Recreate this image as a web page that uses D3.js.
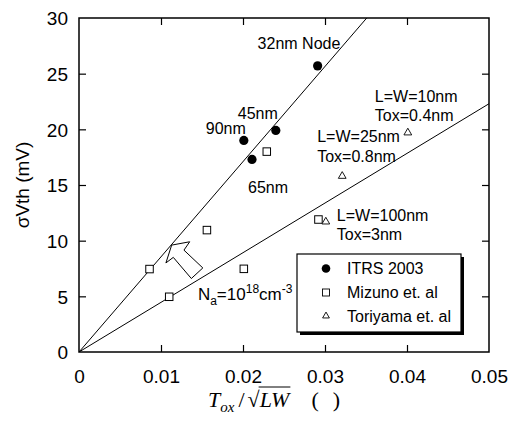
<!DOCTYPE html>
<html>
<head>
<meta charset="utf-8">
<script src="https://cdn.jsdelivr.net/npm/d3@7"></script>
<style>
  body { margin: 0; background: #fff; }
  text { font-family: Arial, "Liberation Sans", sans-serif; fill: #000; }
</style>
</head>
<body>
<svg id="chart"></svg>
<script>
// data
const itrsX = [0.0201, 0.0211, 0.0240, 0.0291];
const itrsY = [19.0, 17.3, 19.9, 25.7];
const itrsLabels = ["90nm", "65nm", "45nm", "32nm Node"];

const mizunoX = [0.0086, 0.0110, 0.0156, 0.0201, 0.0229, 0.0292];
const mizunoY = [7.45, 4.96, 10.95, 7.47, 18.0, 11.9];

const toriyamaX = [0.0301, 0.0321, 0.0401];
const toriyamaY = [11.7, 15.8, 19.7];

// fitted lines: slope in mV per unit
const lineSlopes = [855, 446];

const xTicks = [0, 0.01, 0.02, 0.03, 0.04, 0.05];
const yTicks = [0, 5, 10, 15, 20, 25, 30];

// outline arrow, in data units
const arrowX = [0.0113, 0.0135, 0.0128, 0.0151, 0.0137, 0.0115, 0.0106];
const arrowY = [9.6, 9.9, 9.15, 7.55, 6.6, 8.5, 8.0];

const legendNames = ["ITRS 2003", "Mizuno et. al", "Toriyama et. al"];

const width = 519, height = 424;
const margin = { top: 18, right: 30, bottom: 72, left: 79 };
const w = width - margin.left - margin.right,
      h = height - margin.top - margin.bottom;

const svg = d3.select("#chart")
    .attr("width", width)
    .attr("height", height);

const x = d3.scaleLinear().domain([0, 0.05]).range([0, w]);
const y = d3.scaleLinear().domain([0, 30]).range([h, 0]);

const g = svg.append("g")
    .attr("transform", "translate(" + margin.left + "," + margin.top + ")");

svg.append("defs").append("clipPath").attr("id", "clip")
    .append("rect").attr("width", w).attr("height", h);

// inward ticks on all four sides
const tickLen = 7;
const axB = g.append("g").attr("transform", "translate(0," + h + ")")
    .call(d3.axisBottom(x).tickValues(xTicks).tickSize(-tickLen).tickPadding(18)
        .tickFormat(d => d === 0 ? "0" : d3.format(".2f")(d)));
const axT = g.append("g")
    .call(d3.axisTop(x).tickValues(xTicks.slice(1, -1)).tickSize(-tickLen).tickFormat(""));
const axL = g.append("g")
    .call(d3.axisLeft(y).tickValues(yTicks).tickSize(-tickLen).tickPadding(11));
const axR = g.append("g").attr("transform", "translate(" + w + ",0)")
    .call(d3.axisRight(y).tickValues(yTicks.slice(1, -1)).tickSize(-tickLen).tickFormat(""));

[axB, axT, axL, axR].forEach(a => {
    a.select(".domain").remove();
    a.selectAll("line").attr("stroke", "#000").attr("stroke-width", 1.2);
    a.selectAll("text").style("font-size", "19px").attr("fill", "#000");
});
axB.selectAll(".tick").filter(d => d === 0 || d === 0.05).select("line").remove();
axL.selectAll(".tick").filter(d => d === 0 || d === 30).select("line").remove();
axL.selectAll("text").attr("dy", "0.36em");

// frame
g.append("rect").attr("width", w).attr("height", h)
    .attr("fill", "none").attr("stroke", "#000").attr("stroke-width", 1.5);

// fitted lines
const body = g.append("g").attr("clip-path", "url(#clip)");
body.selectAll(".fit").data(lineSlopes).enter().append("line")
    .attr("x1", x(0)).attr("y1", y(0))
    .attr("x2", x(0.05)).attr("y2", d => y(d * 0.05))
    .attr("stroke", "#000").attr("stroke-width", 1);

// arrow
const arrowPts = arrowX.map((v, i) => [x(v), y(arrowY[i])]);
g.append("polygon")
    .attr("points", arrowPts.map(p => p.join(",")).join(" "))
    .attr("fill", "#fff").attr("stroke", "#000").attr("stroke-width", 1);

// markers
const sq = 7.5;
g.selectAll(".miz").data(mizunoX).enter().append("rect")
    .attr("x", d => x(d) - sq / 2)
    .attr("y", (d, i) => y(mizunoY[i]) - sq / 2)
    .attr("width", sq).attr("height", sq)
    .attr("fill", "#fff").attr("stroke", "#000").attr("stroke-width", 1);

const tri = d3.symbol().type(d3.symbolTriangle).size(26);
g.selectAll(".tor").data(toriyamaX).enter().append("path")
    .attr("d", tri)
    .attr("transform", (d, i) => "translate(" + x(d) + "," + y(toriyamaY[i]) + ")")
    .attr("fill", "#fff").attr("stroke", "#000").attr("stroke-width", 0.9);

g.selectAll(".itrs").data(itrsX).enter().append("circle")
    .attr("cx", d => x(d)).attr("cy", (d, i) => y(itrsY[i]))
    .attr("r", 4.6).attr("fill", "#000");

// annotations (offsets from their points, in px)
const itrsOff = [[-38, -6], [-4, 34], [-38, -11], [-60, -17]];
g.selectAll(".itrsLab").data(itrsLabels).enter().append("text")
    .attr("x", (d, i) => x(itrsX[i]) + itrsOff[i][0])
    .attr("y", (d, i) => y(itrsY[i]) + itrsOff[i][1])
    .style("font-size", "16px").text(d => d);

function twoLine(xv, yv, dx, dy, l1, l2) {
    const t = g.append("text").style("font-size", "16px");
    t.append("tspan").attr("x", x(xv) + dx).attr("y", y(yv) + dy).text(l1);
    t.append("tspan").attr("x", x(xv) + dx).attr("y", y(yv) + dy + 19.5).text(l2);
}
twoLine(toriyamaX[2], toriyamaY[2], -33, -31, "L=W=10nm", "Tox=0.4nm");
twoLine(toriyamaX[1], toriyamaY[1], -25, -34, "L=W=25nm", "Tox=0.8nm");
twoLine(toriyamaX[0], toriyamaY[0], 11, -1, "L=W=100nm", "Tox=3nm");

const na = g.append("text")
    .attr("x", x(0.0145)).attr("y", y(4.7))
    .style("font-size", "17px");
na.append("tspan").text("N");
na.append("tspan").attr("dy", 5).style("font-size", "12px").text("a");
na.append("tspan").attr("dy", -5).text("=10");
na.append("tspan").attr("dy", -7).style("font-size", "12px").text("18");
na.append("tspan").attr("dy", 7).text("cm");
na.append("tspan").attr("dy", -7).style("font-size", "12px").text("-3");

// legend with drop shadow
const lg = g.append("g").attr("transform", "translate(" + 218 + "," + 236 + ")");
const lw = 164, lh = 78;
lg.append("rect").attr("x", 3).attr("y", 3).attr("width", lw).attr("height", lh).attr("fill", "#000");
lg.append("rect").attr("width", lw).attr("height", lh)
    .attr("fill", "#fff").attr("stroke", "#000").attr("stroke-width", 1.2);
const rowY = [14.5, 38.5, 62];
lg.append("circle").attr("cx", 29).attr("cy", rowY[0]).attr("r", 4.3).attr("fill", "#000");
lg.append("rect").attr("x", 29 - 3.5).attr("y", rowY[1] - 3.5).attr("width", 7).attr("height", 7)
    .attr("fill", "#fff").attr("stroke", "#000").attr("stroke-width", 0.9);
lg.append("path").attr("d", d3.symbol().type(d3.symbolTriangle).size(20))
    .attr("transform", "translate(29," + rowY[2] + ")")
    .attr("fill", "#fff").attr("stroke", "#000").attr("stroke-width", 0.9);
lg.selectAll(".lt").data(legendNames).enter().append("text")
    .attr("x", 50).attr("y", (d, i) => rowY[i]).attr("dy", "0.36em")
    .style("font-size", "16px").text(d => d);

// y label
svg.append("text")
    .attr("transform", "translate(22," + (margin.top + h / 2) + ") rotate(-90)")
    .attr("text-anchor", "middle").attr("dy", "0.36em")
    .style("font-size", "19px").text("σVth (mV)");

// x label, serif italic with radical
const xl = svg.append("text")
    .attr("x", 208).attr("y", 407)
    .style("font-family", "'Liberation Serif', 'Times New Roman', serif")
    .style("font-size", "22px");
xl.append("tspan").style("font-style", "italic").text("T");
xl.append("tspan").attr("dy", 5).style("font-style", "italic").style("font-size", "15px").text("ox");
xl.append("tspan").attr("dy", -5).attr("dx", 4).text("/");
xl.append("tspan").attr("dx", 3).text("√");
xl.append("tspan").style("font-style", "italic").text("LW");
xl.append("tspan").attr("dx", 22).text("(");
xl.append("tspan").attr("dx", 14).text(")");
// overline above LW
const full = xl.node();
const txt = full.textContent;
const start = full.getStartPositionOfChar(txt.indexOf("L"));
const end = full.getEndPositionOfChar(txt.indexOf("W"));
svg.append("line")
    .attr("x1", start.x - 1).attr("x2", end.x + 1)
    .attr("y1", 387).attr("y2", 387)
    .attr("stroke", "#000").attr("stroke-width", 1);
</script>
</body>
</html>
